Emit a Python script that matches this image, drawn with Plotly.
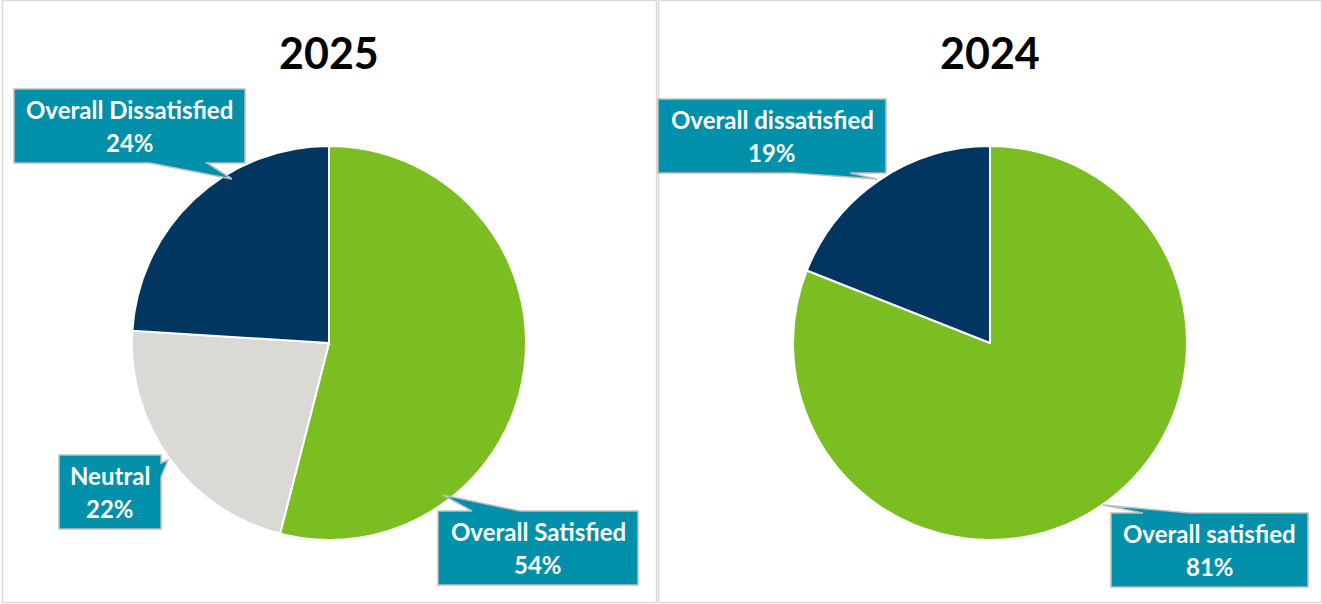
import plotly.graph_objects as go

W, H = 1322, 604

# Survey results (percent of respondents)
labels_2025 = ["Overall Satisfied", "Neutral", "Overall Dissatisfied"]
values_2025 = [54, 22, 24]
labels_2024 = ["Overall satisfied", "Overall dissatisfied"]
values_2024 = [81, 19]
years = ["2025", "2024"]

GREEN = "#7ABE21"
NAVY = "#003660"
GREY = "#D9D9D6"
TEAL = "#0090A9"
EDGE = "#BFBFBF"

colors_2025 = [GREEN, GREY, NAVY]
colors_2024 = [GREEN, NAVY]


def px(x):
    return x / W


def py(y):
    return 1 - y / H


def path(points):
    pts = [f"{px(x):.5f},{py(y):.5f}" for x, y in points]
    return "M" + " L".join(pts) + " Z"


fig = go.Figure()

# pie placement in pixels: (left, right, top, bottom)
pie_boxes = [(132, 526, 146, 540), (793, 1187, 146, 540)]
series = [(labels_2025, values_2025, colors_2025), (labels_2024, values_2024, colors_2024)]

for (l, r, t, b), (labs, vals, cols) in zip(pie_boxes, series):
    fig.add_trace(go.Pie(
        labels=labs, values=vals, sort=False, direction="clockwise", rotation=0,
        marker=dict(colors=cols, line=dict(color="white", width=2)),
        textinfo="none", hoverinfo="label+percent", showlegend=False,
        domain=dict(x=[px(l), px(r)], y=[py(b), py(t)]),
    ))

shapes = []
# panel frames
for x0, x1 in [(2.5, 656.5), (658.5, 1321.5)]:
    shapes.append(dict(type="rect", xref="paper", yref="paper",
                       x0=px(x0), x1=px(x1), y0=py(602.5), y1=py(0.5),
                       line=dict(color="#D9D9D9", width=1.5), fillcolor="rgba(0,0,0,0)"))

# callout outlines (box + pointer) for each label, in pixel units
callouts = [
    # 2025
    dict(text=(labels_2025[2], values_2025[2]), box=(14, 245, 89, 163),
         outline=[(14, 89), (245, 89), (245, 163), (207, 163), (232, 179), (150, 163), (14, 163)]),
    dict(text=(labels_2025[1], values_2025[1]), box=(59, 161, 455, 529),
         outline=[(59, 455), (161, 455), (161, 463), (168, 460), (161, 477), (161, 529), (59, 529)]),
    dict(text=(labels_2025[0], values_2025[0]), box=(438, 638, 511, 585),
         outline=[(438, 511), (472, 511), (443, 495), (520, 511), (638, 511), (638, 585), (438, 585)]),
    # 2024
    dict(text=(labels_2024[1], values_2024[1]), box=(658, 886, 99, 173),
         outline=[(658, 99), (886, 99), (886, 173), (850, 173), (877, 179), (793, 173), (658, 173)]),
    dict(text=(labels_2024[0], values_2024[0]), box=(1111, 1308, 513, 587),
         outline=[(1111, 513), (1143, 513), (1103, 505), (1190, 513), (1308, 513), (1308, 587), (1111, 587)]),
]

annotations = []
for c in callouts:
    shapes.append(dict(type="path", xref="paper", yref="paper", path=path(c["outline"]),
                       fillcolor=TEAL, line=dict(color=EDGE, width=1.5)))
    x0, x1, y0, y1 = c["box"]
    cx, cy = (x0 + x1) / 2, (y0 + y1) / 2
    name, val = c["text"]
    for line_text, dy in [(name, -16.5), (f"{val}%", 16.5)]:
        annotations.append(dict(xref="paper", yref="paper", x=px(cx), y=py(cy + dy),
                                xanchor="center", yanchor="middle", showarrow=False,
                                text=f"<b>{line_text}</b>",
                                font=dict(family="Lato", size=24, color="white")))

# chart titles
for year, cx in zip(years, [329, 990]):
    annotations.append(dict(xref="paper", yref="paper", x=px(cx), y=py(52),
                            xanchor="center", yanchor="middle", showarrow=False,
                            text=f"<b>{year}</b>",
                            font=dict(family="Lato", size=43, color="black")))

fig.update_layout(
    width=W, height=H, margin=dict(l=0, r=0, t=0, b=0),
    paper_bgcolor="white", plot_bgcolor="white",
    shapes=shapes, annotations=annotations,
)

fig.write_html("out.html", config={"displayModeBar": False})
